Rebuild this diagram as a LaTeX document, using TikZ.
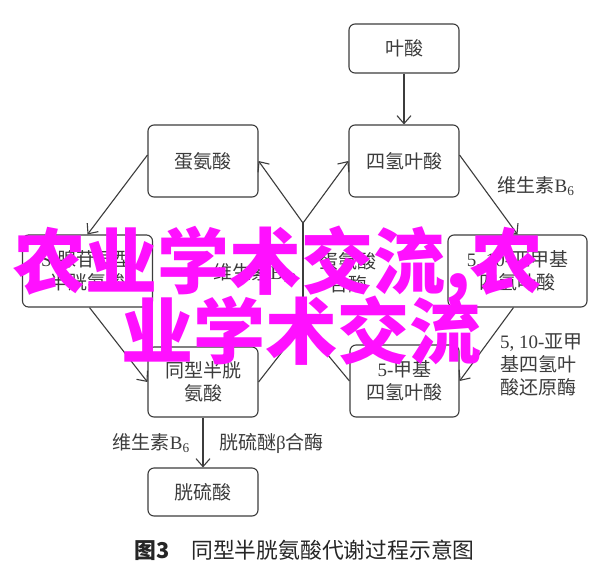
\documentclass[tikz,border=0pt]{standalone}
\usepackage{fontspec}
\setmainfont{Liberation Serif}
\newfontfamily\cjk{Noto Sans CJK SC}
\usetikzlibrary{arrows.meta}
\definecolor{lnc}{HTML}{3C3C3C}
\definecolor{wmc}{HTML}{FF10FF}
\newcommand\zh[1]{{\cjk #1}}
\begin{document}
\begin{tikzpicture}[x=1pt,y=-1pt,
  box/.style={draw=lnc, line width=1.1pt, rounded corners=6pt, minimum width=110pt, minimum height=72pt, inner sep=0pt, align=center, text=lnc, font=\fontsize{19}{23}\selectfont},
  conn/.style={draw=lnc, line width=1.1pt},
  arr/.style={conn, -{Straight Barb[length=8pt,width=14pt]}},
  lbl/.style={text=lnc, font=\fontsize{19}{23}\selectfont, inner sep=0pt},
  wm/.style={text=wmc, inner sep=0pt, anchor=base west, font=\cjk\bfseries\fontsize{72}{72}\selectfont}]
\fill[white] (0,0) rectangle (600,574);
\useasboundingbox (0,0) rectangle (600,574);

\node[box, minimum height=49pt] (ys) at (404,48.5) {\zh{叶酸}};
\node[box] (sq) at (404,161) {\zh{四氢叶酸}};
\node[box] (dan) at (203,161) {\zh{蛋氨酸}};
\node[box, minimum width=130pt] (sah) at (87.5,271) {S-\zh{腺苷同型}\\\zh{半胱氨酸}};
\node[box, minimum width=139pt] (mt) at (517.5,271) {5, 10-\zh{亚甲基}\\\zh{四氢叶酸}};
\node[box, minimum height=70pt] (hcy) at (203,382) {\zh{同型半胱}\\\zh{氨酸}};
\node[box, minimum width=109pt] (mf) at (404.5,381) {5-\zh{甲基}\\\zh{四氢叶酸}};
\node[box, minimum height=48pt] (cys) at (203,492) {\zh{胱硫酸}};

\coordinate (jt) at (303,223);
\coordinate (jb) at (303,325);

\draw[arr] (ys) -- (sq);
\draw[arr] ([yshift=6pt]sq.east) -- (mt.north);
\draw[arr] ([xshift=-4pt]mt.south) -- (mf.east);
\draw[arr] ([yshift=6pt]dan.west) -- (sah.north);
\draw[arr] ([xshift=2pt]sah.south) -- (hcy.west);
\draw[arr] (jt) -- (dan.east);
\draw[arr] (jt) -- (sq.west);
\draw[conn] (jb) -- (jt);
\draw[conn] (hcy.east) -- (jb);
\draw[conn] (mf.west) -- (jb);
\draw[arr] (hcy) -- (cys);

\node[lbl] (l1) at (536,186) {\zh{维生素}B\textsubscript{6}};
\node[lbl, anchor=west, align=left] (l2) at (500,365) {5, 10-\zh{亚甲}\\\zh{基四氢叶}\\\zh{酸还原酶}};
\node[lbl, anchor=east] (l3) at (297,273) {\zh{维生素}B\textsubscript{12}};
\node[lbl, align=center] (l4) at (348,273) {\zh{蛋氨酸}\\\zh{合酶}};
\node[lbl, anchor=east] (l5) at (190,443) {\zh{维生素}B\textsubscript{6}};
\node[lbl, anchor=west] (l6) at (219,443) {\zh{胱硫醚}β\zh{合酶}};

\node[inner sep=0pt, anchor=base west, text=black!85, font=\fontsize{21.8}{24}\selectfont] (cap) at (134,558) {{\cjk\bfseries 图3}\hspace{22pt}{\cjk 同型半胱氨酸代谢过程示意图}};

\node[wm] (wm1) at (13,288) {农业学术交流,农};
\node[wm] (wm2) at (121,358) {业学术交流};
\end{tikzpicture}
\end{document}
